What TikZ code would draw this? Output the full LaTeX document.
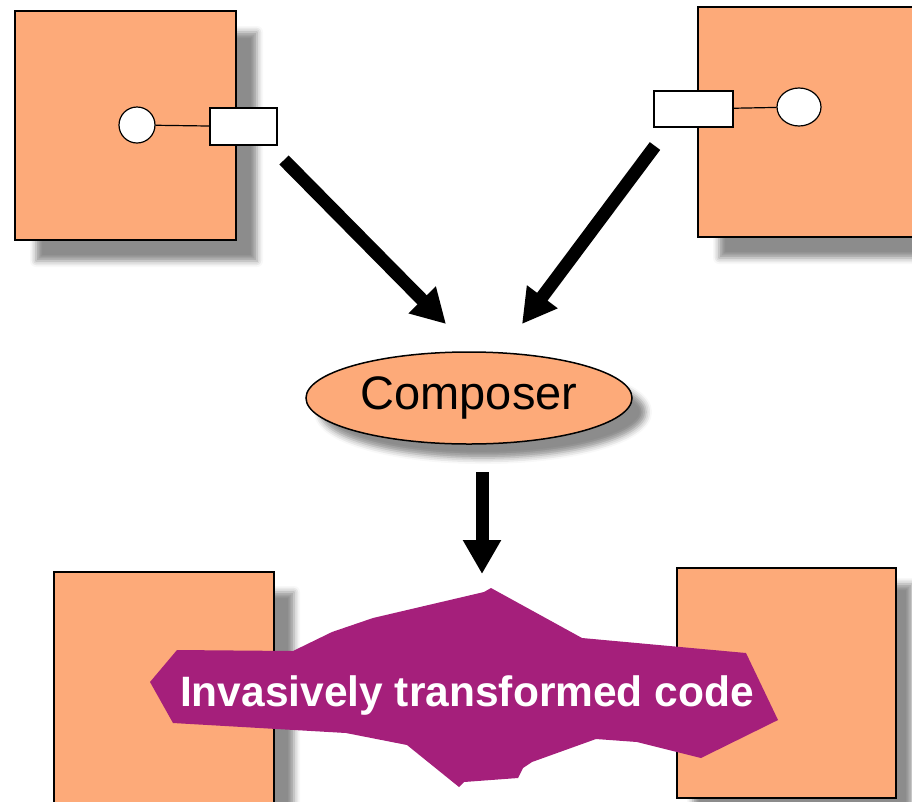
\documentclass[tikz,border=0pt]{standalone}
\usepackage{fontspec}
\setmainfont{Liberation Sans}
\setsansfont{Liberation Sans}
\usetikzlibrary{shapes.geometric,shadows.blur,arrows.meta}
\definecolor{peach}{HTML}{FDAA79}
\definecolor{plum}{HTML}{A51F7B}
\begin{document}
\begin{tikzpicture}[x=1pt,y=-1pt,
  compbox/.style={draw,line width=1.5pt,fill=peach,rectangle,inner sep=0pt},
  dropshadow/.style={blur shadow={shadow xshift=#1,shadow yshift=-#1,shadow blur radius=6pt,shadow opacity=45}},
  portbox/.style={draw,line width=1.2pt,fill=white,rectangle,inner sep=0pt},
  hole/.style={draw,line width=1.2pt,fill=white,ellipse,inner sep=0pt},
  fatarrow/.style={line width=13pt,-{Triangle[length=34pt,width=36pt]}}]
\useasboundingbox (0,0) rectangle (912,801);
\clip (0,0) rectangle (912,801);

% upper components with their ports
\node[compbox,dropshadow=21pt,minimum width=221pt,minimum height=229pt] (tl) at (125.5,125.5) {};
\node[portbox,minimum width=67pt,minimum height=37pt] (tlport) at (243.5,126.5) {};
\node[hole,minimum width=36pt,minimum height=36pt] (tlhole) at (137,125) {};
\draw[line width=1.2pt] (tlhole) -- (tlport);

\node[compbox,dropshadow=21pt,minimum width=222pt,minimum height=230pt] (tr) at (809,122) {};
\node[portbox,minimum width=79pt,minimum height=36pt] (trport) at (693.5,109) {};
\node[hole,minimum width=44pt,minimum height=38pt] (trhole) at (799,107) {};
\draw[line width=1.2pt] (trhole) -- (trport);

% composer
\node[ellipse,draw,line width=1.5pt,fill=peach,inner sep=0pt,
      blur shadow={shadow xshift=14pt,shadow yshift=-14pt,shadow blur radius=6pt,shadow opacity=45},
      minimum width=326pt,minimum height=92pt,
      font=\fontsize{47}{56}\selectfont] (composer) at (469,398) {Composer};

% lower components
\node[compbox,dropshadow=20pt,minimum width=220pt,minimum height=240pt] (bl) at (164,692) {};
\node[compbox,dropshadow=16pt,minimum width=219pt,minimum height=230pt] (br) at (786.5,683) {};

% arrows into and out of the composer
\coordinate (a1s) at (284,160);
\coordinate (a1e) at (446,324);
\coordinate (a2s) at (655,146);
\coordinate (a2e) at (522,324);
\coordinate (a3s) at (482,472);
\coordinate (a3e) at (482,574);
\draw[fatarrow] (a1s) -- (a1e);
\draw[fatarrow] (a2s) -- (a2e);
\draw[fatarrow] (a3s) -- (a3e);

% transformed code blob
\fill[plum] (491,588) -- (484,592) -- (373,618) -- (332,632) -- (293,651)
  -- (177,650) -- (150,682) -- (173,723) -- (346,733) -- (407,745)
  -- (459,787) -- (464,782) -- (518,778) -- (523,768) -- (532,762)
  -- (596,739) -- (637,742) -- (701,758) -- (778,720) -- (746,653)
  -- (582,638) -- cycle;
\node[anchor=base,text=white,inner sep=0pt,font=\bfseries\fontsize{42.5}{50}\selectfont] (code) at (467,706) {Invasively transformed code};
\end{tikzpicture}
\end{document}
